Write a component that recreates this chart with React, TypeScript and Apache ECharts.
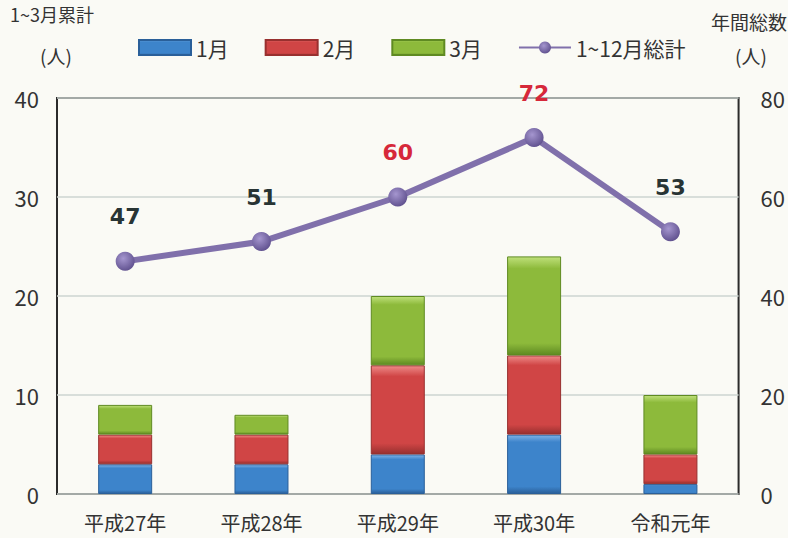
import React, { useEffect, useRef } from "react";
import * as echarts from "echarts";

const categories = ["平成27年", "平成28年", "平成29年", "平成30年", "令和元年"];
const jan = [3, 3, 4, 6, 1];
const feb = [3, 3, 9, 8, 3];
const mar = [3, 2, 7, 10, 6];
const yearTotal = [47, 51, 60, 72, 53];
const leftTicks = { min: 0, max: 40, interval: 10 };
const rightTicks = { min: 0, max: 80, interval: 20 };

const FONT = "'Noto Sans CJK JP', 'Noto Sans', sans-serif";

function barStyle(base: string, light: string, dark: string) {
  return {
    color: new echarts.graphic.LinearGradient(0, 0, 0, 1, [
      { offset: 0, color: light },
      { offset: 0.12, color: base },
      { offset: 0.88, color: base },
      { offset: 1, color: dark },
    ]),
    borderColor: dark,
    borderWidth: 1,
  };
}

export default function App() {
  const ref = useRef<HTMLDivElement>(null);
  useEffect(() => {
    if (!ref.current) return;
    const chart = echarts.init(ref.current, null, { renderer: "svg" });
    chart.setOption({
      animation: false,
      backgroundColor: "#fafaf5",
      textStyle: { fontFamily: FONT },
      grid: {
        left: 57,
        right: 47,
        top: 98,
        bottom: 44,
        show: true,
        borderColor: "#2b2b2b",
        borderWidth: 2,
        backgroundColor: "transparent",
      },
      legend: {
        left: 133,
        top: 32,
        itemWidth: 52,
        itemHeight: 15,
        itemGap: 36,
        textStyle: { fontSize: 21, color: "#333", fontFamily: FONT },
        data: [
          { name: "1月", icon: "rect" },
          { name: "2月", icon: "rect" },
          { name: "3月", icon: "rect" },
          { name: "1~12月総計" },
        ],
      },
      graphic: [
        { type: "text", left: 10, top: 5, style: { text: "1~3月累計", fontSize: 18, fill: "#333", fontFamily: FONT } },
        { type: "text", left: 40, top: 46, style: { text: "(人)", fontSize: 19, fill: "#333", fontFamily: FONT } },
        { type: "text", left: 711, top: 12, style: { text: "年間総数", fontSize: 19, fill: "#333", fontFamily: FONT } },
        { type: "text", left: 735, top: 46, style: { text: "(人)", fontSize: 19, fill: "#333", fontFamily: FONT } },
      ],
      xAxis: {
        type: "category",
        data: categories,
        axisLine: { show: false },
        axisTick: { show: false },
        axisLabel: { fontSize: 20, color: "#333", margin: 18, fontFamily: FONT },
      },
      yAxis: [
        {
          type: "value",
          ...leftTicks,
          axisLine: { show: false },
          axisTick: { show: false },
          axisLabel: { fontSize: 22, color: "#333", margin: 18, fontFamily: FONT },
          splitLine: { show: true, lineStyle: { color: "#cdd5d0", width: 1.5 } },
        },
        {
          type: "value",
          ...rightTicks,
          axisLine: { show: false },
          axisTick: { show: false },
          axisLabel: { fontSize: 22, color: "#333", margin: 22, align: "left", fontFamily: FONT },
          splitLine: { show: false },
        },
      ],
      series: [
        {
          name: "1月",
          type: "bar",
          stack: "q",
          barWidth: 54,
          data: jan,
          itemStyle: barStyle("#3d84cb", "#7fb3e6", "#2a5f99"),
        },
        {
          name: "2月",
          type: "bar",
          stack: "q",
          data: feb,
          itemStyle: barStyle("#d04545", "#ee8a88", "#98302f"),
        },
        {
          name: "3月",
          type: "bar",
          stack: "q",
          data: mar,
          itemStyle: barStyle("#8dba3b", "#bfe07a", "#5f8a22"),
        },
        {
          name: "1~12月総計",
          type: "line",
          yAxisIndex: 1,
          data: yearTotal,
          symbol: "circle",
          symbolSize: 19,
          lineStyle: { color: "#8070ab", width: 6 },
          itemStyle: {
            color: new echarts.graphic.RadialGradient(0.4, 0.35, 0.7, [
              { offset: 0, color: "#a596cf" },
              { offset: 1, color: "#5d4e8c" },
            ]),
          },
          label: {
            show: true,
            position: "top",
            distance: 24,
            formatter: (p: any) => (p.value >= 60 ? `{r|${p.value}}` : `{d|${p.value}}`),
            rich: {
              r: { color: "#d6283a", fontSize: 22, fontWeight: "bold", fontFamily: "'DejaVu Sans', sans-serif" },
              d: { color: "#283434", fontSize: 22, fontWeight: "bold", fontFamily: "'DejaVu Sans', sans-serif" },
            },
          },
          z: 5,
        },
      ],
    });
    return () => chart.dispose();
  }, []);
  return <div ref={ref} style={{ width: 788, height: 538, position: "absolute", left: 0, top: 0 }} />;
}
